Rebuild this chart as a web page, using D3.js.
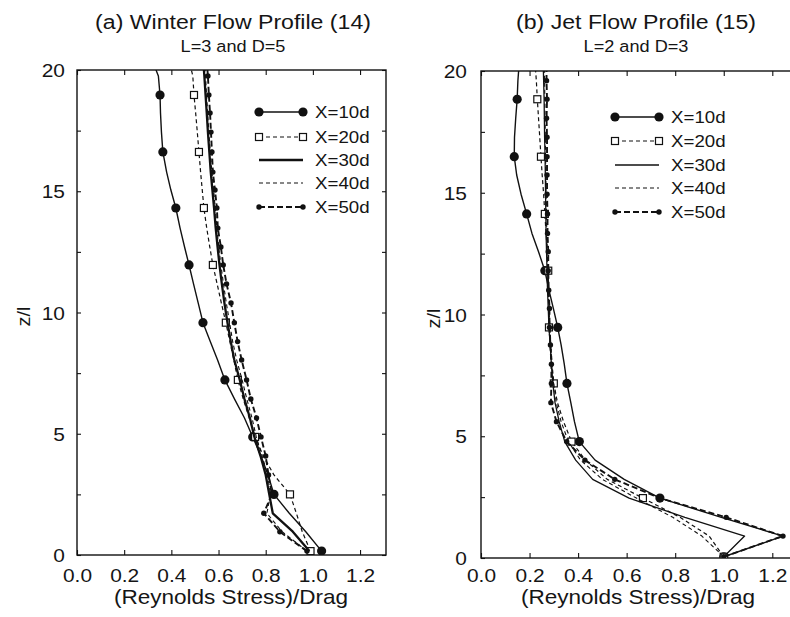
<!DOCTYPE html>
<html><head><meta charset="utf-8">
<script src="https://cdn.jsdelivr.net/npm/d3@7"></script>
<style>
body{margin:0;background:#fff}
svg{display:block}
text{font-family:"Liberation Sans",Arial,Helvetica,sans-serif;fill:#151515}
</style></head><body>
<svg id="c" width="790" height="617"></svg>
<script>
// ---------- data ----------
const xTicks = [0, 0.2, 0.4, 0.6, 0.8, 1.0, 1.2];
const yTicks = [0, 5, 10, 15, 20];
const yMinorTicks = [2.5, 7.5, 12.5, 17.5];
const seriesNames = ["X=10d", "X=20d", "X=30d", "X=40d", "X=50d"];

// panel (a) Winter flow profile: z/l levels and (Reynolds stress)/drag
const zA  = [0.16, 0.96, 1.72, 2.5, 3.3, 4.08, 4.87, 5.65, 6.43, 7.22, 8.04, 8.8, 9.58, 10.39, 11.18, 11.96, 12.7, 13.48, 14.31, 15.05, 15.79, 16.62, 17.44, 18.23, 18.97, 19.75, 20];
const a10 = [1.037, 0.97, 0.9, 0.835, 0.81, 0.78, 0.745, 0.71, 0.668, 0.627, 0.596, 0.565, 0.534, 0.514, 0.494, 0.475, 0.456, 0.437, 0.419, 0.398, 0.38, 0.364, 0.358, 0.354, 0.352, 0.345, 0.335];
const a20 = [0.99, 0.955, 0.93, 0.903, 0.835, 0.79, 0.755, 0.73, 0.705, 0.682, 0.665, 0.648, 0.631, 0.612, 0.594, 0.576, 0.563, 0.55, 0.538, 0.531, 0.524, 0.517, 0.51, 0.503, 0.496, 0.491, 0.485];
const a30 = [0.985, 0.915, 0.83, 0.815, 0.8, 0.778, 0.752, 0.733, 0.71, 0.69, 0.667, 0.652, 0.638, 0.625, 0.614, 0.604, 0.596, 0.588, 0.581, 0.574, 0.567, 0.561, 0.555, 0.55, 0.545, 0.54, 0.538];
const a40 = [0.975, 0.87, 0.805, 0.82, 0.808, 0.785, 0.76, 0.742, 0.72, 0.7, 0.677, 0.66, 0.647, 0.633, 0.621, 0.61, 0.601, 0.593, 0.586, 0.579, 0.572, 0.565, 0.559, 0.554, 0.549, 0.545, 0.543];
const a50 = [0.975, 0.86, 0.792, 0.826, 0.812, 0.8, 0.78, 0.761, 0.737, 0.719, 0.698, 0.681, 0.667, 0.653, 0.634, 0.62, 0.61, 0.597, 0.593, 0.585, 0.576, 0.572, 0.568, 0.564, 0.559, 0.555, 0.553];

// panel (b) Jet flow profile
const zB  = [0.05, 0.9, 1.67, 2.46, 3.23, 4.02, 4.78, 5.6, 6.38, 7.17, 7.96, 8.75, 9.47, 10.25, 11.0, 11.8, 12.58, 13.33, 14.13, 14.94, 15.73, 16.48, 17.28, 18.06, 18.84, 19.6, 20];
const b10 = [1.0, 1.244, 0.99, 0.737, 0.59, 0.47, 0.405, 0.385, 0.37, 0.354, 0.343, 0.33, 0.316, 0.298, 0.28, 0.263, 0.237, 0.21, 0.188, 0.165, 0.147, 0.137, 0.138, 0.143, 0.149, 0.152, 0.155];
const b20 = [1.0, 0.94, 0.82, 0.667, 0.52, 0.43, 0.373, 0.34, 0.315, 0.3, 0.29, 0.285, 0.28, 0.279, 0.278, 0.277, 0.273, 0.268, 0.263, 0.258, 0.252, 0.247, 0.242, 0.237, 0.232, 0.228, 0.225];
const b30 = [1.0, 1.086, 0.84, 0.61, 0.46, 0.39, 0.345, 0.322, 0.305, 0.296, 0.29, 0.285, 0.28, 0.277, 0.274, 0.272, 0.27, 0.268, 0.267, 0.266, 0.265, 0.264, 0.262, 0.261, 0.26, 0.258, 0.257];
const b40 = [1.0, 0.91, 0.79, 0.64, 0.5, 0.41, 0.36, 0.33, 0.31, 0.3, 0.293, 0.288, 0.284, 0.28, 0.277, 0.275, 0.273, 0.271, 0.27, 0.268, 0.267, 0.266, 0.265, 0.264, 0.263, 0.262, 0.262];
const b50 = [1.0, 1.244, 1.01, 0.737, 0.551, 0.428, 0.353, 0.311, 0.288, 0.29, 0.29, 0.286, 0.282, 0.282, 0.279, 0.277, 0.277, 0.274, 0.274, 0.272, 0.272, 0.272, 0.272, 0.27, 0.272, 0.27, 0.27];

// ---------- layout / style ----------
const SX = 1.1; // horizontal stretch of the scanned lettering
const svg = d3.select("#c");

function label(g, x, y, str, size, anchor, rot) {
  return g.append("text")
    .attr("transform", `translate(${x},${y})` + (rot ? ` rotate(${rot})` : "") + ` scale(${SX},1)`)
    .attr("text-anchor", anchor || "start")
    .attr("font-size", size)
    .text(str);
}

const panels = [
  { title: "(a) Winter Flow Profile (14)", sub: "L=3 and D=5", cx: 233, xlabCx: 231,
    xr: [77, 386], yr: [555, 70], z: zA, series: [a10, a20, a30, a40, a50], w30: 2.3,
    ylabX: 65, zlX: 30, legend: { x0: 259, x1: 303, tx: 315, ys: [112, 137, 160, 183, 207] } },
  { title: "(b) Jet Flow Profile (15)", sub: "L=2 and D=3", cx: 636, xlabCx: 638,
    xr: [481, 799], yr: [558, 71], z: zB, series: [b10, b20, b30, b40, b50], w30: 1.3,
    ylabX: 467, zlX: 440, legend: { x0: 615, x1: 659, tx: 671, ys: [117, 141, 165, 188, 212] } }
];

const styleOf = (i, p) => [
  { w: 1.4, dash: null, mk: "big", every: 3 },
  { w: 1.2, dash: "4,3", mk: "sq", every: 3 },
  { w: p.w30, dash: null, mk: null },
  { w: 1.1, dash: "4,3", mk: null },
  { w: 1.9, dash: "6,3", mk: "dot", every: 1 }
][i];

function marker(g, kind, cx, cy) {
  if (kind === "big") g.append("circle").attr("cx", cx).attr("cy", cy).attr("r", 4.6).attr("fill", "#111");
  else if (kind === "dot") g.append("circle").attr("cx", cx).attr("cy", cy).attr("r", 2.7).attr("fill", "#111");
  else if (kind === "sq") g.append("rect").attr("x", cx - 3.5).attr("y", cy - 3.5).attr("width", 7).attr("height", 7)
      .attr("fill", "#fff").attr("stroke", "#111").attr("stroke-width", 1.2);
}

panels.forEach((p, pi) => {
  const g = svg.append("g");
  const x = d3.scaleLinear().domain([0, 1.31]).range(p.xr);
  const y = d3.scaleLinear().domain([0, 20]).range(p.yr);
  const [L, R] = p.xr, [B, T] = p.yr;

  // titles
  label(g, p.cx, 29, p.title, 21, "middle");
  label(g, p.cx, 52, p.sub, 16.5, "middle");

  // clip
  const cid = "clip" + pi;
  svg.append("clipPath").attr("id", cid).append("rect")
    .attr("x", L).attr("y", T).attr("width", R - L).attr("height", B - T);

  // axes (inward ticks)
  const ax = (gen, tx, ty) => g.append("g").attr("transform", `translate(${tx},${ty})`).call(gen)
      .call(s => s.select(".domain").remove())
      .call(s => s.selectAll("line").attr("stroke", "#111").attr("stroke-width", 1.1));

  const bottom = ax(d3.axisBottom(x).tickValues(xTicks).tickSizeInner(-5).tickSizeOuter(0).tickFormat(d3.format(".1f")), 0, B);
  bottom.selectAll("text").attr("y", 582 - B).attr("dy", null).attr("font-size", 19)
    .attr("transform", `scale(${SX},1)`).attr("fill", "#151515").attr("font-family", null);
  ax(d3.axisTop(x).tickValues(xTicks).tickSizeInner(-5).tickSizeOuter(0).tickFormat(""), 0, T);

  const yAll = yTicks.concat(yMinorTicks);
  ax(d3.axisLeft(y).tickValues(yAll).tickSizeInner(-4).tickSizeOuter(0).tickFormat(""), L, 0);
  ax(d3.axisRight(y).tickValues(yAll).tickSizeInner(-4).tickSizeOuter(0).tickFormat(""), R, 0);
  yTicks.forEach(t => label(g, p.ylabX, y(t) + 7, String(t), 19, "end"));

  // frame
  g.append("rect").attr("x", L).attr("y", T).attr("width", R - L).attr("height", B - T)
    .attr("fill", "none").attr("stroke", "#111").attr("stroke-width", 1.4);

  // axis titles
  label(g, p.xlabCx, 604, "(Reynolds Stress)/Drag", 20.5, "middle");
  label(g, p.zlX, (T + B) / 2 + 4, "z/l", 18, "middle", -90);

  // series
  const plot = g.append("g").attr("clip-path", `url(#${cid})`);
  p.series.forEach((vals, si) => {
    const st = styleOf(si, p);
    const pts = vals.map((v, k) => [x(v), y(p.z[k]), k]);
    plot.append("path").attr("d", d3.line()(pts.map(d => [d[0], d[1]])))
      .attr("fill", "none").attr("stroke", "#111").attr("stroke-width", st.w)
      .attr("stroke-dasharray", st.dash).attr("stroke-linejoin", "round");
    if (st.mk) pts.forEach(d => {
      const k = d[2];
      if (k < p.z.length - 1 && k % st.every === 0) marker(plot, st.mk, d[0], d[1]);
    });
  });

  // legend
  const lg = g.append("g");
  seriesNames.forEach((name, si) => {
    const st = styleOf(si, p);
    const yy = p.legend.ys[si];
    lg.append("line").attr("x1", p.legend.x0).attr("x2", p.legend.x1).attr("y1", yy).attr("y2", yy)
      .attr("stroke", "#111").attr("stroke-width", st.w).attr("stroke-dasharray", st.dash);
    if (st.mk) { marker(lg, st.mk, p.legend.x0, yy); marker(lg, st.mk, p.legend.x1, yy); }
    label(lg, p.legend.tx, yy + 6, name, 17, "start");
  });
});
</script>
</body></html>
